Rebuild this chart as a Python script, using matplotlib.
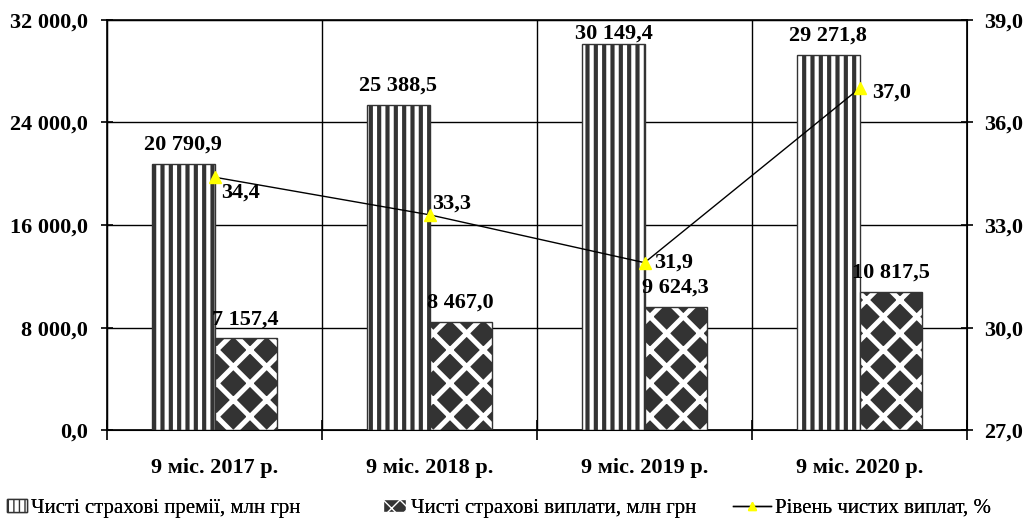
import numpy as np
import matplotlib.pyplot as plt
from matplotlib.lines import Line2D
from matplotlib.patches import Patch

categories = ["9 міс. 2017 р.", "9 міс. 2018 р.", "9 міс. 2019 р.", "9 міс. 2020 р."]
premiums = [20790.9, 25388.5, 30149.4, 29271.8]      # млн грн
payouts = [7157.4, 8467.0, 9624.3, 10817.5]          # млн грн
level = [34.4, 33.3, 31.9, 37.0]                     # %
left_ticks = [0, 8000, 16000, 24000, 32000]
right_ticks = [27, 30, 33, 36, 39]
legend_labels = ["Чисті страхові премії, млн грн", "Чисті страхові виплати, млн грн",
                 "Рівень чистих виплат, %"]

DARK = "#333333"


def fmt(v, dec=1):
    s = "{:,.{d}f}".format(v, d=dec)
    return s.replace(",", " ").replace(".", ",")


def bar_label(ax, xi, v, ymax):
    # keep the label inside the plot area like the original does
    if v + 700 + 1900 > ymax:
        ax.text(xi, ymax - 250, fmt(v), ha="center", va="top", fontsize=16,
                fontweight="bold")
    else:
        ax.text(xi, v + 700, fmt(v), ha="center", va="bottom", fontsize=16,
                fontweight="bold")


def main():
    plt.rcParams['font.family'] = ['Liberation Serif', 'DejaVu Serif']
    fig = plt.figure(figsize=(10.31, 5.24), dpi=100)
    ax = fig.add_axes([0.1038, 0.179, 0.8342, 0.783])
    x = np.arange(len(categories))
    w = 0.29
    ymax = 32000

    with plt.rc_context({'hatch.linewidth': 3.0}):
        ax.bar(x - w / 2, premiums, w, facecolor="white", edgecolor=DARK,
               hatch="||", linewidth=1.0, zorder=3)
    with plt.rc_context({'hatch.linewidth': 3.6}):
        ax.bar(x + w / 2, payouts, w, facecolor=DARK, edgecolor="white",
               hatch="x", linewidth=0, zorder=3)
    ax.bar(x + w / 2, payouts, w, fill=False, edgecolor=DARK, linewidth=1.0, zorder=4)

    for xi, v in zip(x, premiums):
        bar_label(ax, xi - w / 2, v, ymax)
    for xi, v in zip(x, payouts):
        bar_label(ax, xi + w / 2, v, ymax)

    ax.set_xlim(-0.5, len(categories) - 0.5)
    ax.set_ylim(0, ymax)
    ax.set_yticks(left_ticks)
    ax.set_yticklabels([fmt(t) for t in left_ticks], fontsize=16, fontweight="bold")
    ax.set_xticks(x)
    ax.set_xticklabels(categories, fontsize=16, fontweight="bold")
    ax.tick_params(axis="x", length=0, pad=20)
    ax.tick_params(axis="y", direction="inout", length=8, width=1.2, pad=10)
    ax.set_xticks(np.arange(len(categories) + 1) - 0.5, minor=True)
    ax.tick_params(axis="x", which="minor", direction="inout", length=14, width=1.2)
    ax.grid(axis="y", color="black", linewidth=1.0, zorder=0)
    ax.grid(axis="x", which="minor", color="black", linewidth=1.0, zorder=0)
    for sp in ax.spines.values():
        sp.set_linewidth(1.2)

    ax2 = ax.twinx()
    ax2.plot(x, level, color="black", linewidth=1.0, marker="^", markersize=8,
             markerfacecolor="yellow", markeredgecolor="yellow", zorder=5)
    ax2.set_ylim(27, 39)
    ax2.set_yticks(right_ticks)
    ax2.set_yticklabels([fmt(t) for t in right_ticks], fontsize=16, fontweight="bold")
    ax2.tick_params(axis="y", direction="inout", length=8, width=1.2, pad=8)
    offsets = [(5, -11), (2, 8), (7, 0), (9, -3)]
    for xi, v, (dx, dy) in zip(x, level, offsets):
        ax2.annotate(fmt(v), (xi, v), xytext=(dx, dy), textcoords="offset points",
                     ha="left", va="center", fontsize=16, fontweight="bold")

    # legend: three separate entries spread across the bottom
    with plt.rc_context({'hatch.linewidth': 1.5}):
        h1 = Patch(facecolor="white", edgecolor=DARK, hatch="|||")
    with plt.rc_context({'hatch.linewidth': 2.5}):
        h2 = Patch(facecolor=DARK, edgecolor="white", hatch="xx")
    h3 = Line2D([], [], color="black", linewidth=1.0, marker="^", markersize=6,
                markerfacecolor="yellow", markeredgecolor="yellow")
    entries = [(h1, 0.007, 0.95), (h2, 0.371, 1.15), (h3, 0.711, 1.8)]
    for (h, xa, hl), lab in zip(entries, legend_labels):
        leg = fig.legend([h], [lab], loc="center left", bbox_to_anchor=(xa, 0.030),
                         frameon=False, fontsize=15, handlelength=hl, handleheight=0.6,
                         handletextpad=0.2, borderpad=0, borderaxespad=0)
        fig.add_artist(leg)

    fig.savefig("out.png", dpi=100)


if __name__ == '__main__': main()
